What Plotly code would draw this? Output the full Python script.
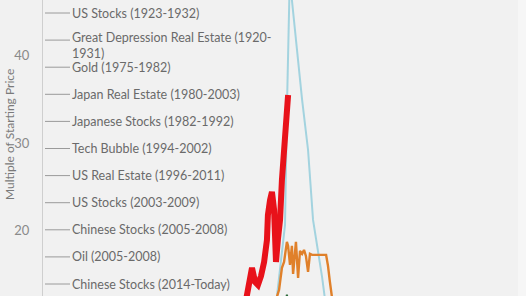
import plotly.graph_objects as go

# ---- data (x: years, y: multiple of starting price) ----
labels = [
    "US Stocks (1923-1932)",
    "Great Depression Real Estate (1920-<br>1931)",
    "Gold (1975-1982)",
    "Japan Real Estate (1980-2003)",
    "Japanese Stocks (1982-1992)",
    "Tech Bubble (1994-2002)",
    "US Real Estate (1996-2011)",
    "US Stocks (2003-2009)",
    "Chinese Stocks (2005-2008)",
    "Oil (2005-2008)",
    "Chinese Stocks (2014-Today)",
]

blue_x = [9.81, 9.98, 10.19, 10.27, 10.40, 10.48, 10.91, 11.16, 11.37, 11.75, 11.87, 11.96]
blue_y = [11.59, 15.57, 20.68, 33.75, 50.0, 46.25, 34.89, 29.20, 21.25, 14.77, 12.61, 10.45]

red_x = [8.55, 8.67, 8.80, 8.93, 9.05, 9.18, 9.31, 9.43, 9.47, 9.56, 9.64, 9.73,
         9.77, 9.81, 9.89, 9.98, 10.06, 10.11, 10.19, 10.23, 10.27, 10.32]
red_y = [12.16, 13.86, 15.80, 14.20, 13.86, 14.89, 16.48, 18.98, 21.82, 23.52, 24.43, 22.39,
         19.55, 16.48, 18.98, 21.25, 25.80, 28.07, 29.20, 31.48, 33.75, 35.45]

orange_x = [9.81, 9.94, 10.06, 10.15, 10.27, 10.32, 10.40, 10.48, 10.53, 10.61, 10.65, 10.74,
            10.82, 10.91, 10.99, 11.07, 11.16, 11.24, 11.33, 11.92, 12.00, 12.08, 12.17, 12.21]
orange_y = [12.16, 13.30, 15.80, 16.48, 18.75, 18.30, 16.14, 18.30, 15.11, 17.61, 18.75, 14.66,
            17.73, 17.39, 17.84, 17.16, 15.34, 17.39, 17.27, 17.27, 16.02, 14.20, 12.61, 11.59]

green_x = [10.15, 10.27, 10.40]
green_y = [11.0, 12.75, 11.0]

y_ticks = [20, 30, 40]

fig = go.Figure()
fig.add_trace(go.Scatter(x=blue_x, y=blue_y, mode="lines",
                         line=dict(color="#a3d3df", width=2)))
fig.add_trace(go.Scatter(x=green_x, y=green_y, mode="lines",
                         line=dict(color="#2e6b3c", width=2)))
fig.add_trace(go.Scatter(x=orange_x, y=orange_y, mode="lines",
                         line=dict(color="#e0802a", width=2.4)))
fig.add_trace(go.Scatter(x=red_x, y=red_y, mode="lines",
                         line=dict(color="#e8121a", width=6)))

W, H = 526, 296
ml, mr = 43, 8
pw = W - ml - mr

annotations = []
shapes = []
for i, lab in enumerate(labels):
    ypx = 13 + 27.1 * i
    yp = 1 - ypx / H
    shapes.append(dict(type="line", xref="paper", yref="paper",
                       x0=(45 - ml) / pw, x1=(70 - ml) / pw, y0=yp, y1=yp,
                       line=dict(color="#9a9a9a", width=1)))
    annotations.append(dict(text=lab, xref="paper", yref="paper",
                            x=(70 - ml) / pw, y=yp, xanchor="left",
                            yanchor="top" if "<br>" in lab else "middle",
                            yshift=12 if "<br>" in lab else 0,
                            align="left", showarrow=False,
                            font=dict(family="Lato", size=12.5, color="#6a6a6a")))

annotations.append(dict(text="Multiple of Starting Price", xref="paper", yref="paper",
                        x=(9 - ml) / pw, y=1 - 135 / H, textangle=-90,
                        xanchor="center", yanchor="middle", showarrow=False,
                        font=dict(family="Lato", size=12, color="#7a7a7a")))

shapes.append(dict(type="rect", xref="paper", yref="paper", x0=1, x1=1.05,
                   y0=0, y1=1, fillcolor="#f6f6f6", line=dict(width=0), layer="below"))

fig.update_layout(
    width=W, height=H,
    margin=dict(l=ml, r=mr, t=0, b=0),
    paper_bgcolor="#f1f1f1", plot_bgcolor="#f1f1f1",
    showlegend=False,
    annotations=annotations, shapes=shapes,
    xaxis=dict(range=[0, 20], visible=False),
    yaxis=dict(range=[12.6, 46.25], tickvals=y_ticks, showgrid=False, zeroline=False,
               showline=True, linecolor="#cfcfcf", linewidth=1,
               ticks="", ticklabelstandoff=10,
               tickfont=dict(family="Lato", size=13, color="#8a8a8a")),
)

fig.write_html("out.html")
